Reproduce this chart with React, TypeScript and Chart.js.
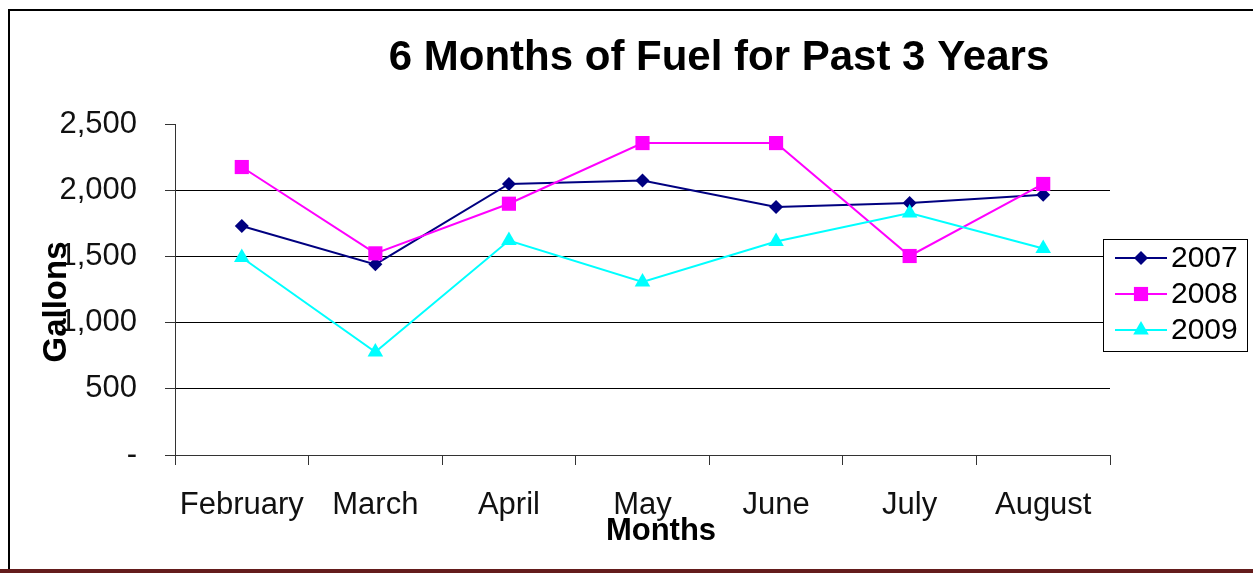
import React, { useEffect, useRef } from "react";
import { Chart, registerables } from "chart.js";

Chart.register(...registerables);

const categories = ["February", "March", "April", "May", "June", "July", "August"];
const seriesNames = ["2007", "2008", "2009"];
const values2007 = [1730, 1440, 2047, 2074, 1873, 1903, 1966];
const values2008 = [2175, 1523, 1898, 2356, 2356, 1503, 2047];
const values2009 = [1492, 778, 1620, 1307, 1612, 1828, 1560];
const yTicks = [0, 500, 1000, 1500, 2000, 2500];
const titleText = "6 Months of Fuel for Past 3 Years";
const xTitle = "Months";
const yTitle = "Gallons";

const FONT = "'Liberation Sans', Arial, sans-serif";
const colors = ["#000080", "#FF00FF", "#00FFFF"];
const pointStyles = ["rectRot", "rect", "triangle"];
const pointRadii = [7, 10, 9];

function drawMarker(ctx: CanvasRenderingContext2D, style: string, x: number, y: number, r: number, color: string) {
  ctx.save();
  ctx.fillStyle = color;
  ctx.beginPath();
  if (style === "rect") {
    const s = r * Math.SQRT1_2;
    ctx.rect(x - s, y - s, 2 * s, 2 * s);
  } else if (style === "rectRot") {
    ctx.moveTo(x, y - r);
    ctx.lineTo(x + r, y);
    ctx.lineTo(x, y + r);
    ctx.lineTo(x - r, y);
    ctx.closePath();
  } else {
    const h = r * 1.5;
    const w = r * Math.sqrt(3) / 2;
    ctx.moveTo(x, y - r);
    ctx.lineTo(x + w, y + h - r);
    ctx.lineTo(x - w, y + h - r);
    ctx.closePath();
  }
  ctx.fill();
  ctx.restore();
}

const decorPlugin = {
  id: "decor",
  beforeDraw(chart: any) {
    const ctx = chart.ctx as CanvasRenderingContext2D;
    ctx.save();
    ctx.fillStyle = "#ffffff";
    ctx.fillRect(0, 0, chart.width, chart.height);
    ctx.strokeStyle = "#000000";
    ctx.lineWidth = 2;
    ctx.beginPath();
    ctx.moveTo(9, 575);
    ctx.lineTo(9, 10);
    ctx.lineTo(chart.width + 5, 10);
    ctx.stroke();
    ctx.fillStyle = "#641c1c";
    ctx.fillRect(0, 569, chart.width, 4);
    ctx.restore();
  },
  afterDraw(chart: any) {
    const ctx = chart.ctx as CanvasRenderingContext2D;
    ctx.save();
    // Title
    ctx.fillStyle = "#000";
    ctx.font = `bold 42px ${FONT}`;
    ctx.textAlign = "center";
    ctx.textBaseline = "alphabetic";
    ctx.fillText(titleText, 719, 70);
    // X title
    ctx.font = `bold 31px ${FONT}`;
    ctx.fillText(xTitle, 661, 540);
    // Y title
    ctx.save();
    ctx.translate(66, 302);
    ctx.rotate(-Math.PI / 2);
    ctx.font = `bold 33px ${FONT}`;
    ctx.fillText(yTitle, 0, 0);
    ctx.restore();
    // Legend
    const bx = 1103.5, by = 239.5, bw = 144, bh = 112;
    ctx.fillStyle = "#fff";
    ctx.fillRect(bx, by, bw, bh);
    ctx.strokeStyle = "#000";
    ctx.lineWidth = 1;
    ctx.strokeRect(bx, by, bw, bh);
    const rows = [258, 294, 330];
    chart.data.datasets.forEach((ds: any, i: number) => {
      const y = rows[i];
      ctx.strokeStyle = colors[i];
      ctx.lineWidth = 2;
      ctx.beginPath();
      ctx.moveTo(1115, y);
      ctx.lineTo(1167, y);
      ctx.stroke();
      drawMarker(ctx, pointStyles[i], 1141, y, pointRadii[i], colors[i]);
      ctx.fillStyle = "#000";
      ctx.font = `30px ${FONT}`;
      ctx.textAlign = "left";
      ctx.textBaseline = "middle";
      ctx.fillText(ds.label, 1171, y + 1);
    });
    ctx.restore();
  },
};

export default function App() {
  const ref = useRef<HTMLCanvasElement | null>(null);
  useEffect(() => {
    document.body.style.margin = "0";
    if (!ref.current) return;
    const seriesValues = [values2007, values2008, values2009];
    const chart = new Chart(ref.current, {
      type: "line",
      data: {
        labels: categories,
        datasets: seriesNames.map((name, i) => ({
          label: name,
          data: seriesValues[i],
          borderColor: colors[i],
          backgroundColor: colors[i],
          pointBackgroundColor: colors[i],
          pointBorderColor: colors[i],
          pointBorderWidth: 0,
          pointStyle: pointStyles[i] as any,
          pointRadius: pointRadii[i],
          borderWidth: 2,
          tension: 0,
          fill: false,
          order: 3 - i,
        })),
      },
      options: {
        animation: false,
        responsive: true,
        maintainAspectRatio: false,
        layout: { padding: { top: 124, right: 143, bottom: 0, left: 0 } },
        plugins: {
          legend: { display: false },
          title: { display: false },
          tooltip: { enabled: false },
        },
        scales: {
          x: {
            offset: true,
            grid: {
              offset: true,
              drawOnChartArea: false,
              drawTicks: true,
              tickLength: 10,
              tickColor: "#333",
            },
            border: { display: true, color: "#333", width: 1 },
            ticks: {
              font: { family: FONT, size: 31 },
              color: "#111",
              padding: 22,
              maxRotation: 0,
              autoSkip: false,
            },
            afterFit: (scale: any) => {
              scale.height = 118;
            },
          },
          y: {
            min: 0,
            max: 2500,
            afterBuildTicks: (scale: any) => {
              scale.ticks = yTicks.map((v) => ({ value: v }));
            },
            grid: {
              color: (ctx: any) => (ctx.tick && ctx.tick.value === 2500 ? "rgba(0,0,0,0)" : "#000"),
              tickColor: "#333",
              tickLength: 10,
              lineWidth: 1,
            },
            border: { display: true, color: "#333", width: 1 },
            ticks: {
              font: { family: FONT, size: 31 },
              color: "#111",
              padding: 28,
              callback: (v: any) => (Number(v) === 0 ? "-" : Number(v).toLocaleString("en-US")),
            },
            afterFit: (scale: any) => {
              scale.width = 175;
            },
          },
        },
      },
      plugins: [decorPlugin],
    });
    return () => chart.destroy();
  }, []);
  return (
    <div style={{ position: "absolute", left: 0, top: 0, width: 1253, height: 573 }}>
      <canvas ref={ref} />
    </div>
  );
}
